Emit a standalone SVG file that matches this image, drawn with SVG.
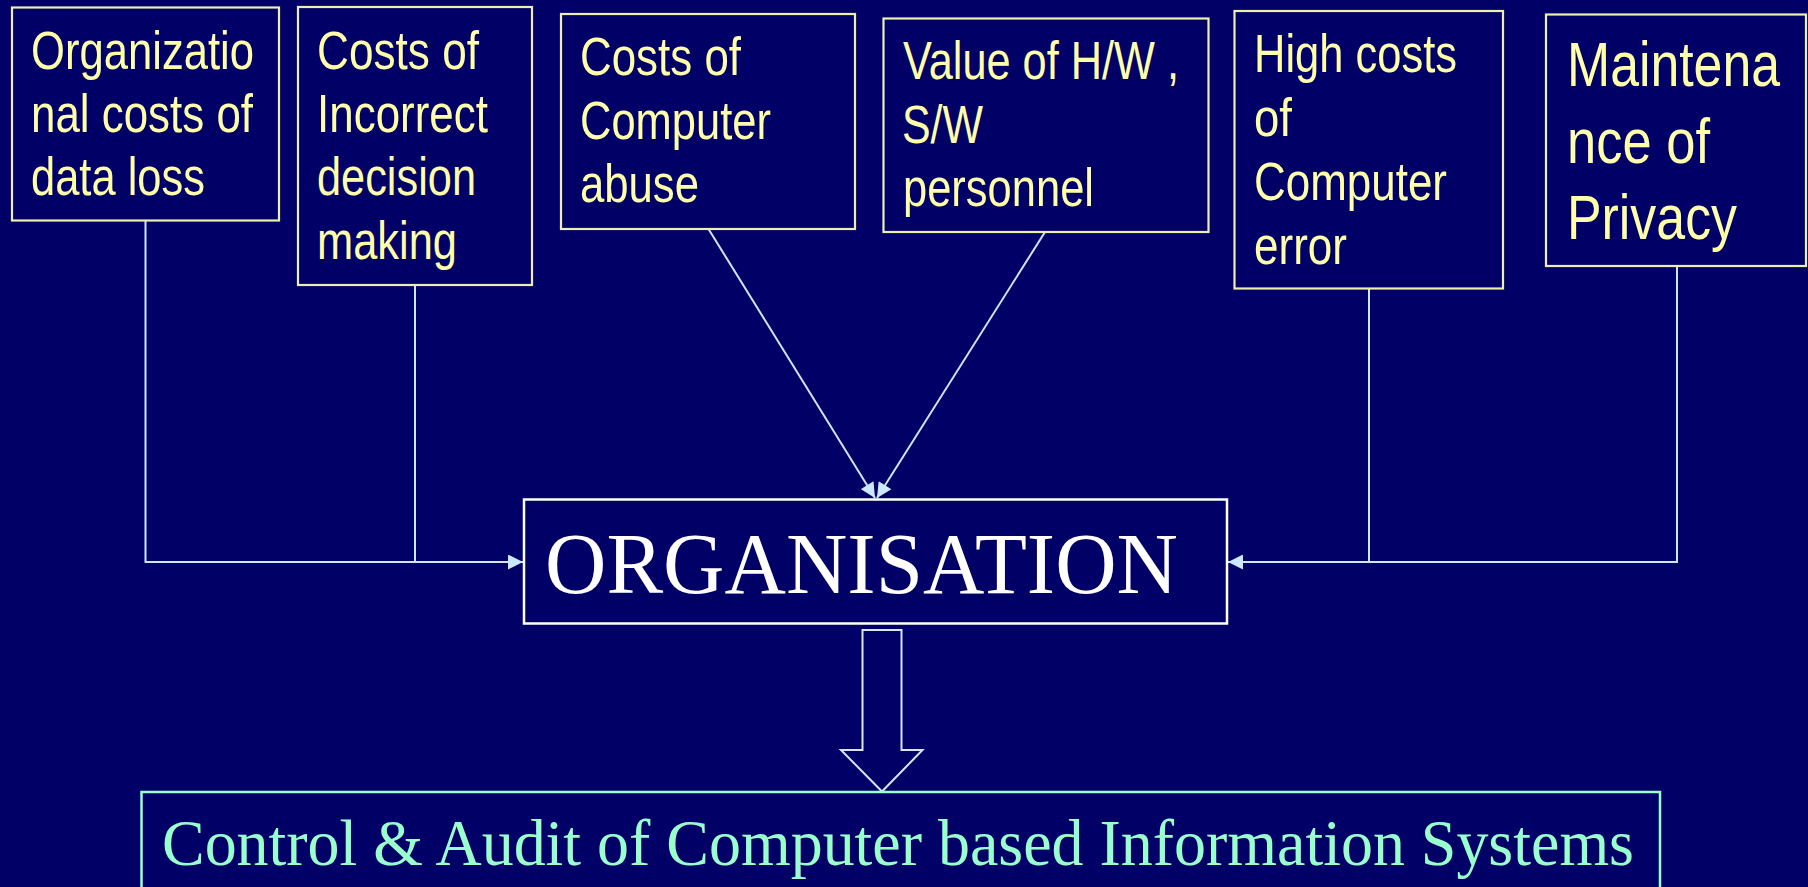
<svg xmlns="http://www.w3.org/2000/svg" width="1808" height="887" viewBox="0 0 1808 887">
  <style>
    .box { fill: #000066; stroke: #eeeeb0; stroke-width: 2.2; }
    .lbl { font-family: "Liberation Sans", Arial, sans-serif; font-size: 53px; fill: #ffffaa; }
    .lbl-big { font-family: "Liberation Sans", Arial, sans-serif; font-size: 63px; fill: #ffffaa; }
    .org-box { fill: #000066; stroke: #ffffff; stroke-width: 2.5; }
    .org-text { font-family: "Liberation Serif", "Times New Roman", serif; font-size: 86px; fill: #ffffff; }
    .ctl-box { fill: #000066; stroke: #99ffcc; stroke-width: 2.5; }
    .ctl-text { font-family: "Liberation Serif", "Times New Roman", serif; font-size: 66px; fill: #99ffcc; }
    .conn { fill: none; stroke: #cce8ff; stroke-width: 2; }
    .block { fill: #000066; stroke: #d8e4ff; stroke-width: 2; }
  </style>
  <defs>
    <marker id="arrow" viewBox="0 0 10 10" refX="10" refY="5" markerUnits="userSpaceOnUse" markerWidth="16" markerHeight="15" orient="auto">
      <path d="M0,0 L10,5 L0,10 z" fill="#cce8ff"/>
    </marker>
  </defs>

  <!-- background -->
  <rect x="0" y="0" width="1808" height="887" fill="#000066"/>

  <!-- connectors -->
  <g id="connectors">
    <path class="conn" d="M145.5,221 V562 H523" marker-end="url(#arrow)"/>
    <path class="conn" d="M415,285 V562"/>
    <path class="conn" d="M1677,266 V562 H1228" marker-end="url(#arrow)"/>
    <path class="conn" d="M1369,288 V562"/>
    <path class="conn" d="M708.5,229 L875,498" marker-end="url(#arrow)"/>
    <path class="conn" d="M1045,232 L877,498" marker-end="url(#arrow)"/>
    <polygon class="block" points="862.5,630 901.5,630 901.5,750 922.5,750 882,791.5 841,750 862.5,750"/>
  </g>

  <g id="node-data-loss">
    <rect class="box" x="12" y="7.5" width="267" height="213"/>
    <text class="lbl" x="31" y="68.5" textLength="223" lengthAdjust="spacingAndGlyphs">Organizatio</text>
    <text class="lbl" x="31" y="132" textLength="222" lengthAdjust="spacingAndGlyphs">nal costs of</text>
    <text class="lbl" x="31" y="195" textLength="174" lengthAdjust="spacingAndGlyphs">data loss</text>
  </g>

  <g id="node-incorrect-decision">
    <rect class="box" x="298" y="7" width="234" height="278"/>
    <text class="lbl" x="317" y="68.5" textLength="162" lengthAdjust="spacingAndGlyphs">Costs of</text>
    <text class="lbl" x="317" y="132" textLength="171" lengthAdjust="spacingAndGlyphs">Incorrect</text>
    <text class="lbl" x="317" y="195" textLength="159" lengthAdjust="spacingAndGlyphs">decision</text>
    <text class="lbl" x="317" y="258.5" textLength="140" lengthAdjust="spacingAndGlyphs">making</text>
  </g>

  <g id="node-computer-abuse">
    <rect class="box" x="561" y="14" width="294" height="215"/>
    <text class="lbl" x="580" y="75" textLength="161" lengthAdjust="spacingAndGlyphs">Costs of</text>
    <text class="lbl" x="580" y="138.5" textLength="191" lengthAdjust="spacingAndGlyphs">Computer</text>
    <text class="lbl" x="580" y="202" textLength="119" lengthAdjust="spacingAndGlyphs">abuse</text>
  </g>

  <g id="node-value-hw-sw">
    <rect class="box" x="883.5" y="18.5" width="325" height="213.5"/>
    <text class="lbl" x="903" y="79" textLength="276" lengthAdjust="spacingAndGlyphs">Value of H/W ,</text>
    <text class="lbl" x="902" y="142.5" textLength="81" lengthAdjust="spacingAndGlyphs">S/W</text>
    <text class="lbl" x="903" y="206" textLength="191" lengthAdjust="spacingAndGlyphs">personnel</text>
  </g>

  <g id="node-computer-error">
    <rect class="box" x="1234.5" y="11" width="268.5" height="277.5"/>
    <text class="lbl" x="1254" y="72" textLength="203" lengthAdjust="spacingAndGlyphs">High costs</text>
    <text class="lbl" x="1254" y="135.5" textLength="38" lengthAdjust="spacingAndGlyphs">of</text>
    <text class="lbl" x="1254" y="200" textLength="193" lengthAdjust="spacingAndGlyphs">Computer</text>
    <text class="lbl" x="1254" y="263.5" textLength="93" lengthAdjust="spacingAndGlyphs">error</text>
  </g>

  <g id="node-privacy">
    <rect class="box" x="1546" y="14.5" width="260" height="251.5"/>
    <text class="lbl-big" x="1567" y="86" textLength="213" lengthAdjust="spacingAndGlyphs">Maintena</text>
    <text class="lbl-big" x="1567" y="162.5" textLength="143" lengthAdjust="spacingAndGlyphs">nce of</text>
    <text class="lbl-big" x="1567" y="238.5" textLength="170" lengthAdjust="spacingAndGlyphs">Privacy</text>
  </g>

  <g id="node-organisation">
    <rect class="org-box" x="524" y="499.5" width="703" height="124"/>
    <text class="org-text" x="545" y="592.5" textLength="633" lengthAdjust="spacingAndGlyphs">ORGANISATION</text>
  </g>

  <g id="node-control-audit">
    <rect class="ctl-box" x="141.5" y="792" width="1518.5" height="130"/>
    <text class="ctl-text" x="162" y="865" textLength="1472" lengthAdjust="spacingAndGlyphs">Control &amp; Audit of Computer based Information Systems</text>
  </g>
</svg>
